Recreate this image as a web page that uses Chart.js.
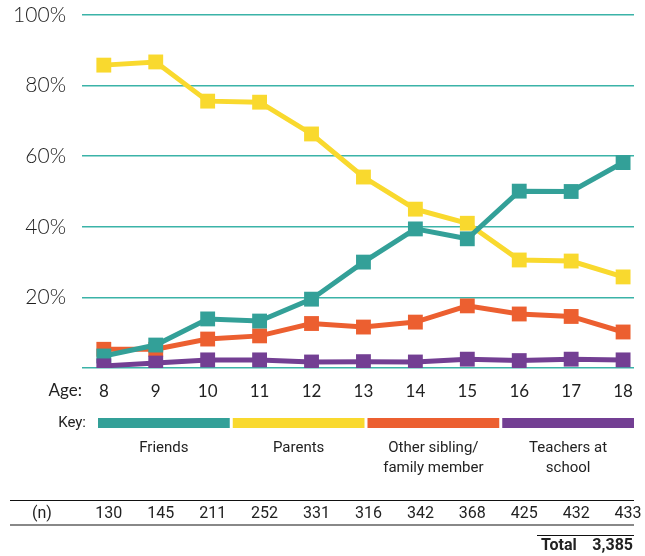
<!DOCTYPE html>
<html lang="en">
<head>
    <meta charset="UTF-8">
    <title>Who children talk to, by age</title>
    <script src="https://cdn.jsdelivr.net/npm/chart.js"></script>
    <style>
        body { margin: 0; background: #fff; }
        #wrap { width: 645px; height: 556px; position: relative; }
    </style>
</head>
<body>
<div id="wrap"><canvas id="ageChart" width="645" height="556"></canvas></div>

<script>
    // data
    const ages = [8, 9, 10, 11, 12, 13, 14, 15, 16, 17, 18];
    const friends = [3.4, 6.5, 13.9, 13.3, 19.5, 30.0, 39.4, 36.6, 50.1, 50.0, 58.2];
    const parents = [85.8, 86.7, 75.6, 75.3, 66.3, 54.1, 45.0, 41.0, 30.6, 30.3, 25.8];
    const otherFamily = [5.3, 5.3, 8.2, 9.1, 12.6, 11.6, 13.0, 17.6, 15.3, 14.6, 10.2];
    const teachers = [0.6, 1.4, 2.3, 2.3, 1.7, 1.8, 1.7, 2.5, 2.1, 2.5, 2.3];
    const yTicks = [0, 20, 40, 60, 80, 100];
    const sampleSizes = [130, 145, 211, 252, 331, 316, 342, 368, 425, 432, 433];
    const totalN = '3,385';
    const keyLabels = [['Friends'], ['Parents'], ['Other sibling/', 'family member'], ['Teachers at', 'school']];

    const TEAL = '#33a098';
    const YELLOW = '#f9d92e';
    const ORANGE = '#ec5f30';
    const PURPLE = '#733f93';
    const keyColors = [TEAL, YELLOW, ORANGE, PURPLE];

    const condensed = '"Liberation Sans Narrow", "Roboto", sans-serif';

    function series(label, values, color, order) {
        return {
            label: label,
            data: values.map((v, i) => ({ x: ages[i], y: v })),
            borderColor: color,
            backgroundColor: color,
            borderWidth: 5,
            pointStyle: 'rect',
            pointRadius: 10.5,
            pointBorderWidth: 0,
            tension: 0,
            order: order
        };
    }

    // key + (n) table under the plot
    const extras = {
        id: 'extras',
        afterDraw(chart) {
            const c = chart.ctx;
            const xs = chart.scales.x;
            c.save();

            c.fillStyle = '#222';
            c.font = '17px Lato, sans-serif';
            c.textAlign = 'right';
            c.textBaseline = 'middle';
            c.fillText('Age:', 82, 391);

            // key bars
            c.font = '15px ' + condensed;
            c.fillText('Key:', 86, 423);
            const left = 98, right = 634, gap = 3;
            const w = (right - left - gap * 3) / 4;
            keyColors.forEach((col, i) => {
                const x0 = left + i * (w + gap);
                c.fillStyle = col;
                c.fillRect(x0, 418, w, 10);
                c.fillStyle = '#222';
                c.textAlign = 'center';
                keyLabels[i].forEach((line, j) => c.fillText(line, x0 + w / 2, 448 + j * 20));
            });

            // (n) row
            c.strokeStyle = '#111';
            c.lineWidth = 1;
            c.beginPath(); c.moveTo(10, 500.5); c.lineTo(634, 500.5); c.stroke();
            c.font = '16px ' + condensed;
            c.textAlign = 'center';
            c.fillText('(n)', 42, 514);
            sampleSizes.forEach((n, i) => c.fillText(String(n), xs.getPixelForValue(ages[i]) + 5, 514));
            c.strokeStyle = '#888';
            c.lineWidth = 2;
            c.beginPath(); c.moveTo(10, 525); c.lineTo(634, 525); c.stroke();

            c.strokeStyle = '#111';
            c.lineWidth = 1;
            c.beginPath(); c.moveTo(537, 535.5); c.lineTo(634, 535.5); c.stroke();
            c.font = 'bold 16px ' + condensed;
            c.textAlign = 'left';
            c.fillText('Total', 541, 546);
            c.textAlign = 'right';
            c.fillText(totalN, 633, 546);
            c.restore();
        }
    };

    new Chart(document.getElementById('ageChart'), {
        type: 'line',
        data: {
            datasets: [
                series('Teachers at school', teachers, PURPLE, 0),
                series('Friends', friends, TEAL, 1),
                series('Parents', parents, YELLOW, 2),
                series('Other sibling/family member', otherFamily, ORANGE, 3)
            ]
        },
        options: {
            responsive: false,
            animation: false,
            events: [],
            layout: { autoPadding: false, padding: { left: 0, right: 11, top: 15, bottom: 0 } },
            plugins: { legend: { display: false }, tooltip: { enabled: false } },
            scales: {
                x: {
                    type: 'linear',
                    min: 7.58,
                    max: 18.21,
                    afterBuildTicks: s => { s.ticks = ages.map(v => ({ value: v })); },
                    afterFit: s => { s.height = 188; s.paddingLeft = 0; s.paddingRight = 0; },
                    grid: { display: false },
                    border: { display: false },
                    ticks: {
                        color: '#222',
                        padding: 5,
                        maxRotation: 0,
                        autoSkip: false,
                        font: { family: 'Lato, sans-serif', size: 17 }
                    }
                },
                y: {
                    min: 0,
                    max: 100,
                    afterBuildTicks: s => { s.ticks = yTicks.map(v => ({ value: v })); },
                    afterFit: s => { s.width = 82; s.paddingTop = 0; s.paddingBottom = 0; },
                    grid: { color: '#3bb3a8', lineWidth: 1.5, drawTicks: false },
                    border: { display: false },
                    ticks: {
                        color: '#1e1e1e',
                        padding: 16,
                        font: { family: 'Lato, sans-serif', size: 21, weight: 300 },
                        callback: v => v === 0 ? '' : v + '%'
                    }
                }
            }
        },
        plugins: [extras]
    });
</script>
</body>
</html>
